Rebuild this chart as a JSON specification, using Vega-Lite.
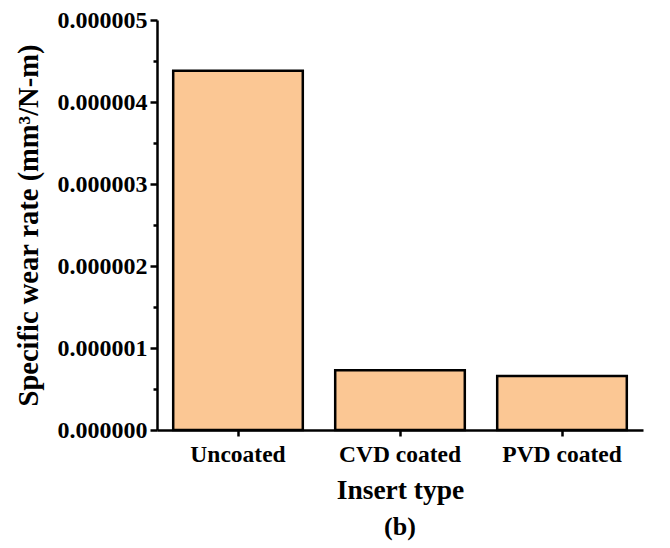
{
  "$schema": "https://vega.github.io/schema/vega-lite/v6.json",
  "width": 486,
  "height": 410,
  "autosize": "none",
  "padding": {"left": 157, "top": 20, "right": 27, "bottom": 118},
  "background": "white",
  "config": {
    "view": {"stroke": null},
    "font": "Liberation Serif",
    "axis": {"grid": false, "domainColor": "black", "tickColor": "black", "labelColor": "black", "titleColor": "black", "labelFont": "Liberation Serif", "titleFont": "Liberation Serif", "labelFontWeight": "bold", "titleFontWeight": "bold", "domainWidth": 2.5, "tickWidth": 2.5}
  },
  "title": {"text": "(b)", "orient": "bottom", "anchor": "middle", "font": "Liberation Serif", "fontSize": 26, "fontWeight": "bold", "color": "black", "offset": 10},
  "data": {"values": [
    {"type": "Uncoated", "rate": 0.00000438},
    {"type": "CVD coated", "rate": 0.00000073},
    {"type": "PVD coated", "rate": 0.00000066}
  ]},
  "layer": [
    {
      "mark": {"type": "bar", "color": "#FBC794", "stroke": "black", "strokeWidth": 2.5},
      "encoding": {
        "x": {"field": "type", "type": "nominal", "sort": null,
              "scale": {"paddingInner": 0.2, "paddingOuter": 0.1},
              "axis": {"title": "Insert type", "labelAngle": 0, "labelFontSize": 23.5, "titleFontSize": 27.5, "tickSize": 6, "labelPadding": 6, "titlePadding": 11}},
        "y": {"field": "rate", "type": "quantitative",
              "scale": {"domain": [0, 0.000005], "nice": false},
              "axis": {"title": "Specific wear rate (mm³/N-m)", "format": ".6f", "values": [0, 0.000001, 0.000002, 0.000003, 0.000004, 0.000005], "labelFontSize": 24, "titleFontSize": 28.5, "tickSize": 7, "labelPadding": 3, "titlePadding": 14}}
      }
    },
    {
      "mark": {"type": "bar", "opacity": 0},
      "encoding": {
        "x": {"field": "type", "type": "nominal", "sort": null},
        "y": {"field": "rate", "type": "quantitative",
              "axis": {"orient": "left", "title": null, "labels": false, "domain": false, "values": [0.0000005, 0.0000015, 0.0000025, 0.0000035, 0.0000045], "tickSize": 4, "tickWidth": 2.5}}
      }
    }
  ],
  "resolve": {"axis": {"y": "independent"}}
}
